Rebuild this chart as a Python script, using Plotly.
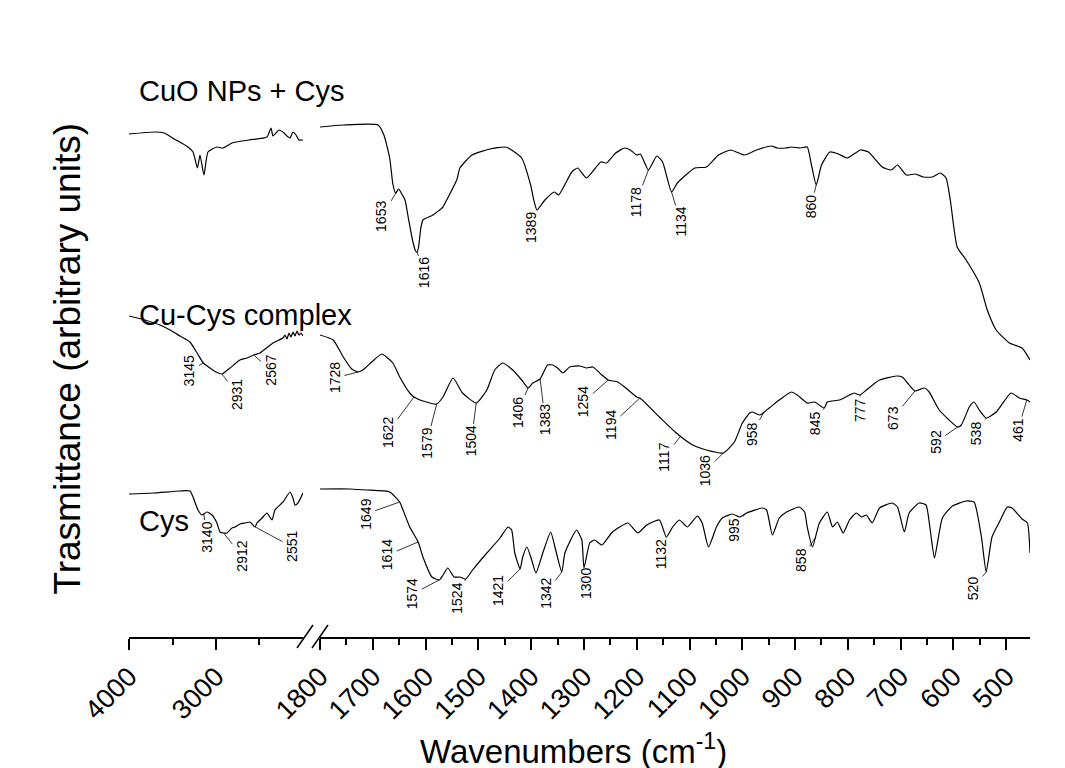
import numpy as np
import plotly.graph_objects as go

# CuO NPs + Cys
cuo_left_wn = [4000, 3701, 3598, 3460, 3322, 3264, 3213, 3184, 3138, 3092, 2989, 2920, 2816,
               2621, 2414, 2368, 2345, 2310, 2276, 2218, 2184, 2149, 2115, 2080, 2046, 2000]
cuo_left_t = [506, 508, 507, 500, 493, 488, 472, 485, 465, 488, 493, 492, 497,
              500, 503, 512, 504, 507, 510, 507, 504, 502, 508, 505, 500, 500]
cuo_right_wn = [1800, 1756, 1690, 1679, 1668, 1662, 1657, 1651, 1645, 1639, 1632, 1624, 1619, 1616,
                1613, 1609, 1605, 1586, 1567, 1560, 1541, 1535, 1512, 1478, 1450, 1440, 1418, 1401,
                1395, 1389, 1374, 1356, 1348, 1323, 1312, 1295, 1268, 1257, 1240, 1223, 1212, 1200,
                1193, 1178, 1162, 1151, 1134, 1123, 1090, 1068, 1045, 1022, 996, 973, 945, 934, 918,
                907, 890, 877, 869, 860, 850, 834, 818, 801, 776, 761, 735, 718, 706, 689, 672, 657,
                640, 625, 614, 606, 593, 576, 551, 536, 519, 494, 470, 455]
cuo_right_t = [513, 515, 515, 505, 482, 456, 447, 451, 446, 440, 420, 398, 389, 388,
               394, 412, 420, 425, 433, 440, 460, 472, 485, 491, 493, 491, 482, 455,
               440, 430, 440, 448, 445, 468, 472, 462, 478, 477, 487, 492, 490, 485,
               486, 470, 484, 478, 448, 457, 472, 473, 485, 490, 485, 490, 494, 492, 492,
               493, 492, 493, 475, 455, 475, 488, 486, 482, 490, 488, 473, 470, 475, 465, 466, 463,
               463, 467, 462, 440, 393, 380, 357, 330, 310, 297, 292, 280]

# Cu-Cys complex
cucys_left_wn = [4000, 3816, 3644, 3529, 3414, 3299, 3218, 3145, 3069, 3000, 2931, 2839, 2724, 2644,
                 2567, 2494, 2345, 2230, 2207, 2184, 2161, 2138, 2115, 2092, 2069, 2046, 2023, 2000]
cucys_left_t = [324, 320, 315, 310, 304, 298, 287, 277, 272, 268, 266, 272, 280, 282,
                285, 287, 297, 302, 305, 301, 307, 303, 308, 304, 309, 305, 307, 304]
cucys_right_wn = [1800, 1775, 1756, 1740, 1728, 1719, 1702, 1683, 1662, 1649, 1630, 1622, 1605, 1579,
                  1567, 1548, 1530, 1504, 1484, 1469, 1454, 1435, 1418, 1406, 1397, 1383, 1369, 1359,
                  1350, 1340, 1327, 1308, 1295, 1283, 1266, 1254, 1236, 1223, 1200, 1194, 1157, 1125,
                  1094, 1068, 1036, 1015, 1000, 986, 981, 967, 949, 930, 907, 896, 877, 863, 845, 839,
                  816, 797, 788, 777, 765, 740, 708, 697, 687, 673, 655, 646, 627, 592, 585, 570, 561,
                  551, 538, 519, 491, 475, 461, 455]
cucys_right_t = [305, 300, 283, 271, 268, 270, 278, 286, 277, 263, 247, 243, 239, 236,
                 243, 262, 247, 237, 250, 270, 277, 270, 260, 252, 257, 261, 275, 275,
                 272, 267, 273, 274, 272, 273, 265, 260, 258, 253, 243, 242, 223, 207,
                 195, 190, 187, 198, 217, 227, 228, 225, 232, 240, 248, 245, 237, 238, 232, 238,
                 240, 245, 247, 245, 250, 260, 264, 263, 257, 249, 252, 248, 230, 213, 215, 233, 238,
                 230, 222, 228, 247, 242, 240, 238]

# Cys
cys_left_wn = [4000, 3724, 3414, 3299, 3264, 3207, 3161, 3103, 3046, 2989, 2954, 2912, 2874, 2816,
               2782, 2724, 2667, 2609, 2552, 2529, 2471, 2414, 2356, 2322, 2230, 2149, 2115, 2092,
               2058, 2000]
cys_left_t = [146, 147, 149, 149, 143, 130, 125, 128, 125, 117, 108, 107, 107, 112,
              113, 116, 117, 118, 113, 117, 122, 127, 120, 130, 138, 148, 142, 135,
              137, 147]
cys_right_wn = [1800, 1743, 1711, 1668, 1649, 1645, 1630, 1614, 1605, 1588, 1574, 1567, 1558, 1546,
                1535, 1524, 1511, 1484, 1459, 1444, 1437, 1431, 1421, 1416, 1408, 1399, 1391, 1378,
                1363, 1355, 1342, 1336, 1314, 1304, 1300, 1289, 1280, 1266, 1246, 1217, 1198, 1181,
                1157, 1144, 1132, 1119, 1104, 1085, 1076, 1064, 1049, 1038, 1019, 1005, 992, 962, 954,
                943, 930, 916, 892, 882, 877, 867, 854, 839, 829, 820, 809, 797, 784, 774, 765, 754,
                740, 716, 706, 693, 684, 665, 652, 644, 636, 621, 602, 576, 561, 547, 538, 527, 513,
                498, 489, 470, 460, 455]
cys_right_t = [151, 151, 150, 148, 138, 133, 113, 98, 83, 63, 60, 65, 72, 63,
               63, 61, 70, 87, 102, 113, 110, 87, 71, 83, 93, 80, 67, 87,
               108, 93, 68, 87, 110, 100, 72, 97, 100, 95, 108, 117, 107, 115,
               120, 103, 113, 120, 113, 124, 117, 93, 113, 122, 126, 123, 127, 132, 130,
               105, 122, 128, 133, 128, 113, 93, 117, 128, 113, 118, 107, 120, 127, 123, 125, 117,
               132, 137, 133, 108, 127, 137, 135, 110, 82, 122, 134, 139, 138, 103, 68, 103, 118,
               133, 132, 121, 117, 87]

spectra = {
    "cuo": (cuo_left_wn, cuo_left_t, cuo_right_wn, cuo_right_t),
    "cucys": (cucys_left_wn, cucys_left_t, cucys_right_wn, cucys_right_t),
    "cys": (cys_left_wn, cys_left_t, cys_right_wn, cys_right_t),
}
names = {"cuo": "CuO NPs + Cys", "cucys": "Cu-Cys complex", "cys": "Cys"}
name_t = {"cuo": 549, "cucys": 325, "cys": 119}

# peak labels: (trace, label, wavenumber the leader points to)
peaks = [
    ("cuo", "1653", 1653), ("cuo", "1616", 1616), ("cuo", "1389", 1389),
    ("cuo", "1178", 1178), ("cuo", "1134", 1134), ("cuo", "860", 860),
    ("cucys", "3145", 3145), ("cucys", "2931", 2931), ("cucys", "2567", 2567),
    ("cucys", "1728", 1728), ("cucys", "1622", 1622), ("cucys", "1579", 1579),
    ("cucys", "1504", 1504), ("cucys", "1406", 1406), ("cucys", "1383", 1383),
    ("cucys", "1254", 1254), ("cucys", "1194", 1194), ("cucys", "1117", 1117),
    ("cucys", "1036", 1036), ("cucys", "958", 958), ("cucys", "845", 845),
    ("cucys", "777", 777), ("cucys", "673", 673), ("cucys", "592", 592),
    ("cucys", "538", 538), ("cucys", "461", 461),
    ("cys", "3140", 3140), ("cys", "2912", 2912), ("cys", "2551", 2551),
    ("cys", "1649", 1649), ("cys", "1614", 1614), ("cys", "1574", 1574),
    ("cys", "1524", 1524), ("cys", "1421", 1421), ("cys", "1342", 1342),
    ("cys", "1300", 1300), ("cys", "1132", 1144), ("cys", "995", 995),
    ("cys", "858", 862), ("cys", "520", 538),
]
# label offsets in px (text centre relative to the leader tip)
label_offsets = [
    (-16, 26), (7, 21), (-6, 17), (-12, 32), (9, 30), (-5, 21),
    (-14, 8), (15, 20), (17, 15),
    (-23, 6), (-26, 35), (-10, 39),
    (-5, 38), (-10, 24), (5, 41),
    (-25, 22), (-29, 27), (-16, 21),
    (-18, 18), (-13, 22), (-9, 15),
    (0, 15), (-22, 27), (-22, 15),
    (-10, 15), (-9, 30),
    (3, 23), (18, 23), (37, 20),
    (-34, 12), (-31, 13), (-27, 14),
    (-9, 19), (-22, 22), (-16, 21),
    (2, 15), (-5, 17), (-11, 16),
    (-14, 22), (-13, 16),
]

FONT = "Arial, Liberation Sans, sans-serif"

fig = go.Figure()
for key, (lw, lt, rw, rt) in spectra.items():
    fig.add_trace(go.Scatter(x=lw, y=lt, mode="lines", xaxis="x", yaxis="y",
                             line=dict(color="black", width=1.2, shape="spline", smoothing=0.5),
                             showlegend=False))
    fig.add_trace(go.Scatter(x=rw, y=rt, mode="lines", xaxis="x2", yaxis="y",
                             line=dict(color="black", width=1.2, shape="spline", smoothing=0.5),
                             showlegend=False))

annotations = []
for (key, lab, wn), (ax, ay) in zip(peaks, label_offsets):
    lw, lt, rw, rt = spectra[key]
    if wn > 1900:
        yv = np.interp(wn, lw[::-1], lt[::-1])
        xr = "x"
    else:
        yv = np.interp(wn, rw[::-1], rt[::-1])
        xr = "x2"
    annotations.append(dict(x=wn, y=yv, xref=xr, yref="y", text=lab, textangle=-90,
                            showarrow=True, arrowhead=0, arrowwidth=0.8, arrowcolor="black",
                            ax=ax, ay=ay, standoff=0, font=dict(family=FONT, size=14, color="black")))

for key in spectra:
    annotations.append(dict(x=0.009, y=name_t[key], xref="paper", yref="y", text=names[key],
                            showarrow=False, xanchor="left", yanchor="middle",
                            font=dict(family=FONT, size=29, color="black")))

annotations.append(dict(x=0.493, y=-0.188, xref="paper", yref="paper",
                        text="Wavenumbers (cm<sup>-1</sup>)", showarrow=False,
                        xanchor="center", yanchor="middle",
                        font=dict(family=FONT, size=33, color="black")))
annotations.append(dict(x=-0.068, y=0.466, xref="paper", yref="paper",
                        text="Trasmittance (arbitrary units)", showarrow=False, textangle=-90,
                        xanchor="center", yanchor="middle",
                        font=dict(family=FONT, size=37, color="black")))

# axis break marks
W, H = 901, 597
def px(x, y):
    return (x - 129) / W, (637 - y) / H
shapes = []
for x0 in (297, 312):
    a = px(x0, 648)
    b = px(x0 + 16, 625)
    shapes.append(dict(type="line", xref="paper", yref="paper", x0=a[0], y0=a[1], x1=b[0], y1=b[1],
                       line=dict(color="black", width=1.5)))

tickfont = dict(family=FONT, size=27, color="black")
axis_common = dict(showline=True, linecolor="black", linewidth=2, ticks="outside", ticklen=11,
                   tickwidth=1.5, tickcolor="black", showgrid=False, zeroline=False,
                   tickangle=-45, tickfont=tickfont, anchor="y")

fig.update_layout(
    width=1065, height=768,
    margin=dict(l=121, r=43, t=32, b=139),
    paper_bgcolor="white", plot_bgcolor="white",
    xaxis=dict(domain=[0, 0.1931], range=[4000, 2000], tickmode="array",
               tickvals=[4000, 3000], ticktext=["4000", "3000"],
               minor=dict(tickvals=[3500, 2500], ticklen=6, tickwidth=1.5, tickcolor="black",
                          ticks="outside"),
               **axis_common),
    xaxis2=dict(domain=[0.212, 1], range=[1800, 455], tickmode="array",
                tickvals=list(range(1800, 499, -100)),
                minor=dict(tickvals=list(range(1750, 455, -100)), ticklen=6, tickwidth=1.5,
                           tickcolor="black", ticks="outside"),
                **axis_common),
    yaxis=dict(range=[3, 600], visible=False),
    annotations=annotations,
    shapes=shapes,
)

fig.write_html("out.html")
